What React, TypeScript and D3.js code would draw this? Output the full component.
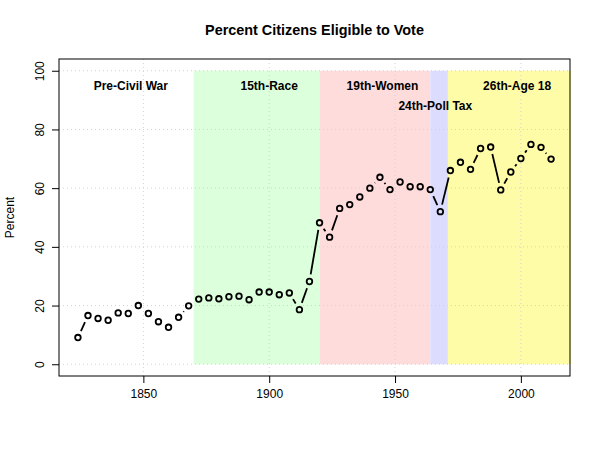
import React, { useRef, useEffect } from "react";
import * as d3 from "d3";

// presidential election years and share of citizens eligible to vote
const years = d3.range(1824, 2013, 4);
const percent = [
  9.1, 16.6, 15.6, 15.0, 17.5, 17.3, 20.0, 17.3, 14.5, 12.6, 16.0, 19.9,
  22.2, 22.6, 22.3, 23.0, 23.2, 22.0, 24.6, 24.6, 23.7, 24.3, 18.6, 28.2,
  48.2, 43.3, 53.1, 54.4, 57.0, 60.0, 63.7, 59.5, 62.1, 60.5, 60.5, 59.5,
  52.0, 66.0, 68.8, 66.4, 73.5, 74.0, 59.4, 65.5, 70.1, 74.9, 73.9, 69.9
];

// amendment eras (start/end years) with their fills
const eraStart = [1870, 1920, 1964, 1971];
const eraEnd = [1920, 1964, 1971, 2020];
const eraFill = ["#dcffdc", "#ffdcdc", "#dcdcff", "#fffca8"];

const eraLabels = ["Pre-Civil War", "15th-Race", "19th-Women", "24th-Poll Tax", "26th-Age 18"];
const eraLabelYear = [1845, 1900, 1945, 1966, 1998.5];
const eraLabelValue = [95, 95, 95, 88, 95];

const xTicks = [1850, 1900, 1950, 2000];
const yTicks = [0, 20, 40, 60, 80, 100];

export default function App() {
  const ref = useRef<SVGSVGElement>(null);

  useEffect(() => {
    document.body.style.margin = "0";
    const width = 600, height = 450;
    const m = { top: 59, right: 30, bottom: 74, left: 59 };
    const font = "'Liberation Sans', Arial, Helvetica, sans-serif";

    const svg = d3.select(ref.current);
    svg.selectAll("*").remove();
    svg.attr("width", width).attr("height", height).style("font-family", font);

    // R-style 4% padding around the data range
    const xr = [years[0], years[years.length - 1]];
    const xpad = (xr[1] - xr[0]) * 0.04;
    const x = d3.scaleLinear().domain([xr[0] - xpad, xr[1] + xpad]).range([m.left, width - m.right]);
    const y = d3.scaleLinear().domain([-4, 104]).range([height - m.bottom, m.top]);

    svg.append("rect").attr("width", width).attr("height", height).attr("fill", "#fff");

    // era bands
    svg.selectAll("rect.era")
      .data(eraStart)
      .enter()
      .append("rect")
      .attr("class", "era")
      .attr("x", (d) => x(d))
      .attr("width", (d, i) => x(eraEnd[i]) - x(d))
      .attr("y", y(100))
      .attr("height", y(0) - y(100))
      .attr("fill", (d, i) => eraFill[i]);

    // dotted grid
    const grid = svg.append("g")
      .attr("stroke", "#d3d3d3")
      .attr("stroke-width", 1)
      .attr("stroke-dasharray", "1,3");
    yTicks.forEach((t) => {
      grid.append("line")
        .attr("x1", m.left).attr("x2", width - m.right)
        .attr("y1", y(t)).attr("y2", y(t));
    });
    xTicks.forEach((t) => {
      grid.append("line")
        .attr("x1", x(t)).attr("x2", x(t))
        .attr("y1", m.top).attr("y2", height - m.bottom);
    });

    // era labels
    svg.selectAll("text.era")
      .data(eraLabels)
      .enter()
      .append("text")
      .attr("class", "era")
      .attr("x", (d, i) => x(eraLabelYear[i]))
      .attr("y", (d, i) => y(eraLabelValue[i]))
      .attr("dy", "0.35em")
      .attr("text-anchor", "middle")
      .style("font-size", "12px")
      .style("font-weight", "bold")
      .text((d) => d);

    // type = "b": segments trimmed short of each point
    const gap = 7.2;
    const pts = years.map((yr, i) => [x(yr), y(percent[i])]);
    const segs = svg.append("g").attr("stroke", "#000").attr("stroke-width", 1.8);
    for (let i = 1; i < pts.length; i++) {
      const [x0, y0] = pts[i - 1];
      const [x1, y1] = pts[i];
      const len = Math.hypot(x1 - x0, y1 - y0);
      const f = gap / len;
      if (f < 0.5) {
        segs.append("line")
          .attr("x1", x0 + f * (x1 - x0)).attr("y1", y0 + f * (y1 - y0))
          .attr("x2", x1 - f * (x1 - x0)).attr("y2", y1 - f * (y1 - y0));
      }
    }

    svg.append("g")
      .selectAll("circle")
      .data(pts)
      .enter()
      .append("circle")
      .attr("cx", (d) => d[0])
      .attr("cy", (d) => d[1])
      .attr("r", 2.8)
      .attr("fill", "none")
      .attr("stroke", "#000")
      .attr("stroke-width", 1.8);

    // box
    svg.append("rect")
      .attr("x", m.left).attr("y", m.top)
      .attr("width", width - m.left - m.right)
      .attr("height", height - m.top - m.bottom)
      .attr("fill", "none")
      .attr("stroke", "#000");

    // axes
    const xAxis = svg.append("g")
      .attr("transform", `translate(0,${height - m.bottom})`)
      .call(d3.axisBottom(x).tickValues(xTicks).tickFormat(d3.format("d")).tickSize(7).tickPadding(6));
    xAxis.select(".domain").remove();
    xAxis.selectAll("text").style("font-size", "12px").style("font-family", font).attr("fill", "#000");

    const yAxis = svg.append("g")
      .attr("transform", `translate(${m.left},0)`)
      .call(d3.axisLeft(y).tickValues(yTicks).tickSize(7).tickPadding(0));
    yAxis.select(".domain").remove();
    yAxis.selectAll("text")
      .style("font-size", "12px")
      .style("font-family", font)
      .attr("fill", "#000")
      .attr("text-anchor", "middle")
      .attr("dy", "0")
      .attr("x", 0)
      .attr("transform", (d) => `translate(${-15},${y(d as number) - y(d as number)}) rotate(-90)`);

    // title and axis label
    svg.append("text")
      .attr("x", (m.left + width - m.right) / 2)
      .attr("y", 35)
      .attr("text-anchor", "middle")
      .style("font-size", "14.4px")
      .style("font-weight", "bold")
      .text("Percent Citizens Eligible to Vote");

    svg.append("text")
      .attr("transform", `translate(14,${(m.top + height - m.bottom) / 2}) rotate(-90)`)
      .attr("text-anchor", "middle")
      .style("font-size", "12px")
      .text("Percent");
  }, []);

  return <svg ref={ref}></svg>;
}
